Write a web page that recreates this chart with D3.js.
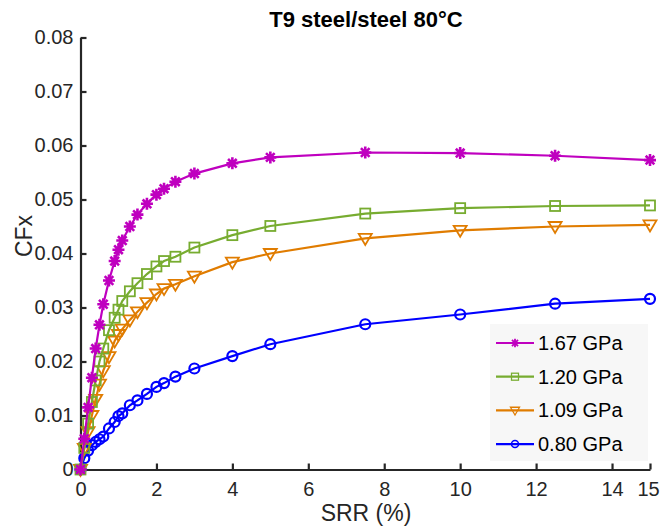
<!DOCTYPE html>
<html><head><meta charset="utf-8">
<script src="https://cdn.jsdelivr.net/npm/d3@7"></script>
<style>body{margin:0;background:#fff}svg{display:block}</style>
</head><body><svg id="c" width="660" height="530"></svg>
<script>
const srr = [0, 0.1, 0.2, 0.3, 0.4, 0.5, 0.6, 0.75, 0.9, 1.0, 1.1, 1.3, 1.5, 1.75, 2.0, 2.2, 2.5, 3, 4, 5, 7.5, 10, 12.5, 15];
const cf167 = [0, 0.0057, 0.0115, 0.0170, 0.0224, 0.0268, 0.0306, 0.0350, 0.0386, 0.0407, 0.0424, 0.0450, 0.0472, 0.0492, 0.0509, 0.0520, 0.0533, 0.0548, 0.0567, 0.0578, 0.0587, 0.0586, 0.0581, 0.0573];
const cf120 = [0, 0.0040, 0.0085, 0.0125, 0.0165, 0.0200, 0.0224, 0.0258, 0.0281, 0.0296, 0.0312, 0.0330, 0.0345, 0.0362, 0.0376, 0.0386, 0.0394, 0.0411, 0.0434, 0.0451, 0.0474, 0.0484, 0.0488, 0.0489];
const cf109 = [0, 0.0039, 0.0070, 0.0100, 0.0130, 0.0158, 0.0183, 0.0209, 0.0238, 0.0250, 0.0260, 0.0277, 0.0292, 0.0309, 0.0325, 0.0335, 0.0343, 0.0358, 0.0384, 0.0400, 0.0428, 0.0443, 0.0450, 0.0453];
const cf080 = [0, 0.0021, 0.0035, 0.0045, 0.0051, 0.0056, 0.0061, 0.0076, 0.0088, 0.0099, 0.0104, 0.0119, 0.0128, 0.0140, 0.0153, 0.0160, 0.0172, 0.0187, 0.0210, 0.0232, 0.0269, 0.0287, 0.0307, 0.0316];
const seriesNames = ["1.67 GPa", "1.20 GPa", "1.09 GPa", "0.80 GPa"];
const seriesValues = [cf167, cf120, cf109, cf080];
const seriesColors = ["#BF00BF", "#77AC30", "#E07C00", "#0000FF"];
const seriesMarkers = ["asterisk", "square", "triangleDown", "circle"];
const xTicks = [0, 2, 4, 6, 8, 10, 12, 14, 15];
const yTicks = [0, 0.01, 0.02, 0.03, 0.04, 0.05, 0.06, 0.07, 0.08];
const titleText = "T9 steel/steel 80°C";
const xLabel = "SRR (%)";
const yLabel = "CFx";

const svg = d3.select("#c");
const axisColor = "#262626";
const font = "'Liberation Sans', Arial, Helvetica, sans-serif";
const x = d3.scaleLinear().domain([0, 15]).range([80.5, 650]);
const y = d3.scaleLinear().domain([0, 0.08]).range([469.5, 37.5]);

// axes
const xAxis = d3.axisBottom(x).tickValues(xTicks).tickSizeInner(-6).tickSizeOuter(0).tickPadding(12).tickFormat(d3.format("d"));
const gx = svg.append("g").attr("transform", `translate(0,${y(0)})`).call(xAxis);
const yAxis = d3.axisLeft(y).tickValues(yTicks).tickSizeInner(-6).tickSizeOuter(0).tickPadding(7).tickFormat(d => d === 0 ? "0" : d3.format(".2f")(d));
const gy = svg.append("g").attr("transform", `translate(${x(0)},0)`).call(yAxis);
[gx, gy].forEach(g => {
  g.select(".domain").attr("stroke", axisColor).attr("stroke-width", 2.2);
  g.selectAll(".tick line").attr("stroke", axisColor).attr("stroke-width", 2.2);
  g.selectAll(".tick text").attr("fill", axisColor).style("font-family", font).style("font-size", "20px");
});
gx.selectAll(".tick text").filter(d => d === 15).attr("dx", "-2");

// title and labels
svg.append("text").attr("x", 366).attr("y", 27).attr("text-anchor", "middle")
  .style("font-family", font).style("font-size", "22px").style("font-weight", "bold").attr("fill", "#000").text(titleText);
svg.append("text").attr("x", 366).attr("y", 521).attr("text-anchor", "middle")
  .style("font-family", font).style("font-size", "23px").attr("fill", axisColor).text(xLabel);
svg.append("text").attr("transform", "translate(32,236) rotate(-90)").attr("text-anchor", "middle")
  .style("font-family", font).style("font-size", "23px").attr("fill", axisColor).text(yLabel);

function marker(sel, type, color) {
  if (type === "asterisk") {
    const r = 6, q = r * 0.72;
    sel.append("path").attr("d", `M${-r},0L${r},0M0,${-r}L0,${r}M${-q},${-q}L${q},${q}M${-q},${q}L${q},${-q}`)
      .attr("stroke", color).attr("stroke-width", 2.6).attr("fill", "none");
  } else if (type === "square") {
    sel.append("rect").attr("x", -5).attr("y", -5).attr("width", 10).attr("height", 10)
      .attr("stroke", color).attr("stroke-width", 1.8).attr("fill", "none");
  } else if (type === "triangleDown") {
    sel.append("path").attr("d", "M-6.5,-4.5L6.5,-4.5L0,6.5Z")
      .attr("stroke", color).attr("stroke-width", 1.8).attr("fill", "none").attr("stroke-linejoin", "miter");
  } else {
    sel.append("circle").attr("r", 5).attr("stroke", color).attr("stroke-width", 2.2).attr("fill", "none");
  }
}

const line = d3.line().x(d => x(d[0])).y(d => y(d[1]));
// draw in reverse so magenta ends on top
for (let i = seriesValues.length - 1; i >= 0; i--) {
  const pts = srr.map((s, j) => [s, seriesValues[i][j]]);
  const g = svg.append("g");
  g.append("path").attr("d", line(pts)).attr("fill", "none").attr("stroke", seriesColors[i]).attr("stroke-width", 2.2);
  pts.forEach(p => {
    const m = g.append("g").attr("transform", `translate(${x(p[0])},${y(p[1])})`);
    marker(m, seriesMarkers[i], seriesColors[i]);
  });
}

// legend
const lg = svg.append("g");
lg.append("rect").attr("x", 490).attr("y", 324).attr("width", 158).attr("height", 137).attr("fill", "#f7f7f7");
seriesNames.forEach((name, i) => {
  const cy = 343 + i * 33.7;
  lg.append("line").attr("x1", 496).attr("x2", 534).attr("y1", cy).attr("y2", cy)
    .attr("stroke", seriesColors[i]).attr("stroke-width", 2.2);
  const m = lg.append("g").attr("transform", `translate(515,${cy}) scale(0.7)`);
  marker(m, seriesMarkers[i], seriesColors[i]);
  lg.append("text").attr("x", 538).attr("y", cy + 7).style("font-family", font).style("font-size", "20px")
    .attr("fill", "#000").text(name);
});
</script></body></html>
